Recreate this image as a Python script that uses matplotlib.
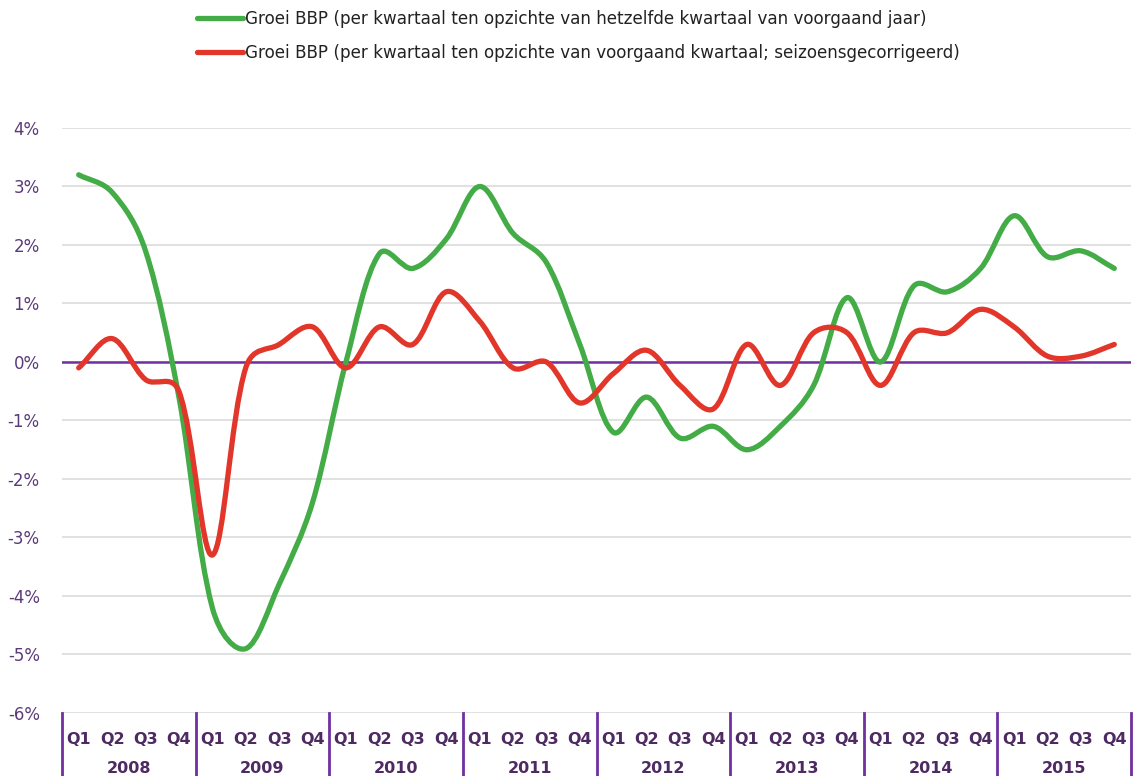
import numpy as np
import matplotlib.pyplot as plt
from matplotlib.path import Path
from matplotlib.patches import PathPatch
from matplotlib.lines import Line2D
from matplotlib.transforms import blended_transform_factory

# Data, 2008 Q1 .. 2015 Q4
jaren = ['2008', '2009', '2010', '2011', '2012', '2013', '2014', '2015']
kwartalen = ['Q1', 'Q2', 'Q3', 'Q4']

groei_jaar = [3.2, 2.9, 1.9, -0.6,
              -4.2, -4.9, -3.8, -2.4,
              0.0, 1.85, 1.6, 2.1,
              3.0, 2.2, 1.7, 0.3,
              -1.2, -0.6, -1.3, -1.1,
              -1.5, -1.1, -0.4, 1.1,
              0.0, 1.3, 1.2, 1.6,
              2.5, 1.8, 1.9, 1.6]

groei_kwartaal = [-0.1, 0.4, -0.3, -0.5,
                  -3.3, -0.1, 0.3, 0.6,
                  -0.1, 0.6, 0.3, 1.2,
                  0.7, -0.1, 0.0, -0.7,
                  -0.2, 0.2, -0.4, -0.8,
                  0.3, -0.4, 0.5, 0.5,
                  -0.4, 0.5, 0.5, 0.9,
                  0.6, 0.1, 0.1, 0.3]

label_jaar = 'Groei BBP (per kwartaal ten opzichte van hetzelfde kwartaal van voorgaand jaar)'
label_kwartaal = 'Groei BBP (per kwartaal ten opzichte van voorgaand kwartaal; seizoensgecorrigeerd)'

groen = '#43ac47'
rood = '#e2362a'
paars = '#7030a0'
tekst_paars = '#5b3a78'
label_paars = '#4e2a63'

# schaal in pixels: 1 kwartaal ~33.4 px, 1% ~58.5 px
SX, SY = 33.4, 58.5


def smooth_path(x, y):
    # vloeiende lijn: Bezier door alle punten,
    # handgrepen (zwak) gewogen naar de lengte van de segmenten
    pts = np.column_stack([np.asarray(x) * SX, np.asarray(y) * SY]).astype(float)
    n = len(pts)
    before = np.zeros_like(pts)
    after = np.zeros_like(pts)
    for i in range(n):
        p0 = pts[max(i - 1, 0)]
        p1 = pts[i]
        p2 = pts[min(i + 1, n - 1)]
        d01 = np.hypot(*(p1 - p0)) ** 0.5
        d12 = np.hypot(*(p2 - p1)) ** 0.5
        t = p2 - p0
        tot = d01 + d12
        if tot == 0:
            before[i] = after[i] = p1
            continue
        before[i] = p1 - t * (d01 / tot) / 3.0
        after[i] = p1 + t * (d12 / tot) / 3.0
    verts = [pts[0]]
    codes = [Path.MOVETO]
    for i in range(n - 1):
        verts += [after[i], before[i + 1], pts[i + 1]]
        codes += [Path.CURVE4] * 3
    verts = np.array(verts) / np.array([SX, SY])
    return Path(verts, codes)


plt.rcParams['font.family'] = ['DejaVu Sans']

fig = plt.figure(figsize=(11.33, 7.76), dpi=100)
ax = fig.add_axes([62 / 1133, 1 - 713 / 776, 1069 / 1133, 585 / 776])

x = np.arange(len(groei_jaar))

ax.set_xlim(-0.5, len(x) - 0.5)
ax.set_ylim(-6, 4)

ax.set_yticks(np.arange(-6, 5, 1))
ax.set_yticklabels([f'{v}%' for v in range(-6, 5)], color=tekst_paars, fontsize=12)
ax.yaxis.grid(True, color='#d9d9d9', linewidth=1.1)
ax.set_axisbelow(True)
ax.tick_params(axis='y', length=0, pad=16)

for s in ax.spines.values():
    s.set_visible(False)

ax.axhline(0, color=paars, linewidth=1.8, zorder=2)

ax.add_patch(PathPatch(smooth_path(x, groei_jaar), fill=False, edgecolor=groen,
                       linewidth=3.8, capstyle='round', joinstyle='round', zorder=3))
ax.add_patch(PathPatch(smooth_path(x, groei_kwartaal), fill=False, edgecolor=rood,
                       linewidth=3.8, capstyle='round', joinstyle='round', zorder=4))

# x-as: kwartalen en jaren
ax.set_xticks(x)
ax.set_xticklabels(kwartalen * len(jaren), fontsize=11.5, fontweight='bold', color=label_paars)
ax.tick_params(axis='x', length=0, pad=14)

trans = blended_transform_factory(ax.transData, ax.transAxes)
for j, jaar in enumerate(jaren):
    ax.text(j * 4 + 1.5, -0.095, jaar, transform=trans, ha='center', va='center',
            fontsize=11.5, fontweight='bold', color=label_paars)
for j in range(len(jaren) + 1):
    ax.add_line(Line2D([j * 4 - 0.5, j * 4 - 0.5], [0, -0.12], transform=trans,
                       color=paars, linewidth=2, clip_on=False))

handles = [Line2D([], [], color=groen, linewidth=3.8, solid_capstyle='round'),
           Line2D([], [], color=rood, linewidth=3.8, solid_capstyle='round')]
fig.legend(handles, [label_jaar, label_kwartaal], loc='upper left',
           bbox_to_anchor=(182 / 1133, 1.007), frameon=False, fontsize=12.1,
           handlelength=2.7, handletextpad=0.12, labelspacing=0.98,
           labelcolor='#222222')

fig.savefig('out.png', dpi=100)
